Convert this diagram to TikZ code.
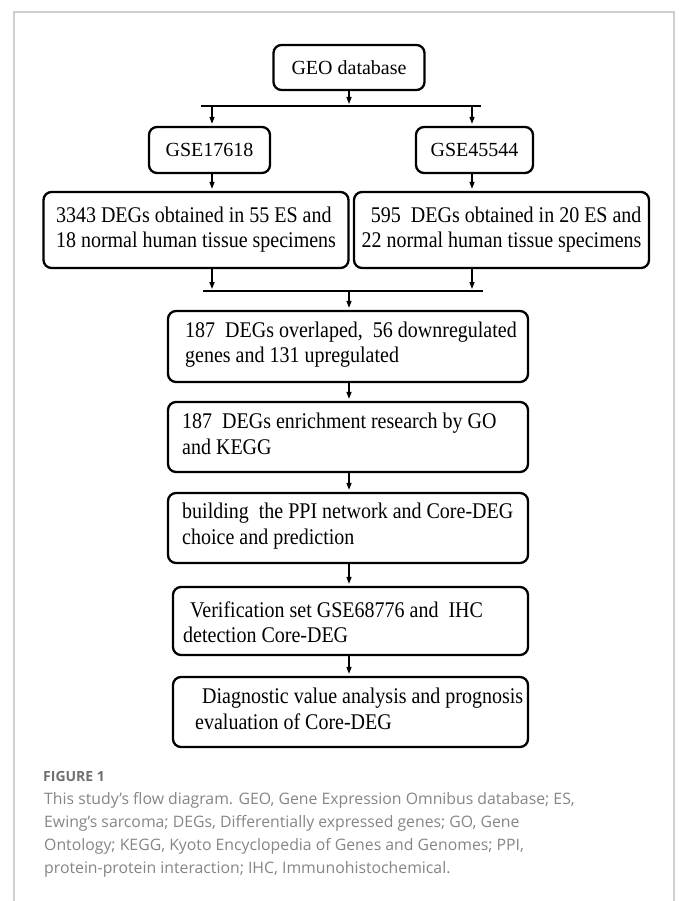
\documentclass[tikz,border=0pt]{standalone}
\usepackage{fontspec}
\usepackage{graphicx}
\setmainfont{Liberation Serif}
\newfontfamily\capfont{Open Sans}
\usetikzlibrary{arrows.meta}
\definecolor{framegray}{HTML}{CFCFCF}
\definecolor{capgray}{HTML}{858585}
\definecolor{figgray}{HTML}{707070}
\newcommand{\lefttwo}[1]{\scalebox{1}[1.12]{\begin{tabular}{@{}l@{}}#1\end{tabular}}}
\newcommand{\righttwo}[1]{\scalebox{1}[1.12]{\begin{tabular}{@{}r@{}}#1\end{tabular}}}
\begin{document}
\begin{tikzpicture}[x=1pt,y=-1pt,
  box/.style={draw=black, line width=2.3pt, rounded corners=8pt, inner sep=0pt, font=\fontsize{20}{22.5}\selectfont},
  boxtext/.style={anchor=west, inner sep=0pt, font=\fontsize{20}{22.5}\selectfont},
  arr/.style={line width=1.3pt, -{Triangle[length=7pt,width=5pt]}, shorten >=2pt},
  bar/.style={line width=2.8pt},
  captext/.style={anchor=west, inner sep=0pt, text=capgray, font=\capfont\fontsize{15.8}{23}\selectfont}
]
\useasboundingbox (0,0) rectangle (678,901);
\draw[framegray, line width=1.5pt] (14,901) -- (14,12) -- (674,12) -- (674,901);

% top
\node[box, minimum width=151pt, minimum height=45pt] (geo) at (349,67.5) {GEO database};
\coordinate (s1) at (201,106);
\coordinate (s2) at (481,106);
\draw[bar] (s1) -- (s2);
\coordinate (sm) at (349,106);
\draw[arr] (geo.south) -- (sm);
\coordinate (al) at (212,106);
\coordinate (ar) at (472,106);

\node[box, minimum width=121pt, minimum height=46pt] (gse1) at (209.5,150) {GSE17618};
\node[box, minimum width=117pt, minimum height=46pt] (gse2) at (474.5,150) {GSE45544};
\draw[arr] (al) -- (al |- gse1.north);
\draw[arr] (ar) -- (ar |- gse2.north);

\node[box, minimum width=305pt, minimum height=76pt] (big1) at (196,230) {\lefttwo{3343 DEGs obtained in 55 ES and\\18 normal human tissue specimens}};
\node[box, minimum width=295pt, minimum height=76pt] (big2) at (501.5,230) {\righttwo{595~~DEGs obtained in 20 ES and\\22 normal human tissue specimens}};
\draw[arr] (gse1.south -| al) -- (big1.north -| al);
\draw[arr] (gse2.south -| ar) -- (big2.north -| ar);

\coordinate (m1) at (203,291);
\coordinate (m2) at (483,291);
\draw[bar] (m1) -- (m2);
\coordinate (mm) at (349,291);
\draw[arr] (big1.south -| al) -- (al |- m1);
\draw[arr] (big2.south -| ar) -- (ar |- m1);

% chain
\node[box, minimum width=360pt, minimum height=71pt] (A) at (348,346.5) {};
\node[boxtext] (At) at (185,345) {\lefttwo{187~~DEGs overlaped,~~56 downregulated\\genes and 131 upregulated}};
\node[box, minimum width=360pt, minimum height=70pt] (B) at (348,437) {};
\node[boxtext] (Bt) at (182,436.5) {\lefttwo{187~~DEGs enrichment research by GO\\and KEGG}};
\node[box, minimum width=360pt, minimum height=70pt] (C) at (348,528) {};
\node[boxtext] (Ct) at (182,526.5) {\lefttwo{building~~the PPI network and Core-DEG\\choice and prediction}};
\node[box, minimum width=355pt, minimum height=68pt] (D) at (350.5,621) {};
\node[boxtext] (Dt) at (183,625) {\lefttwo{\hspace*{7pt}Verification set GSE68776 and~~IHC\\detection Core-DEG}};
\node[box, minimum width=355pt, minimum height=70pt] (E) at (350.5,712) {};
\node[boxtext] (Et) at (195,711.5) {\lefttwo{\hspace*{7pt}Diagnostic value analysis and prognosis\\evaluation of Core-DEG}};

\draw[arr] (mm) -- (mm |- A.north);
\draw[arr] (A.south -| mm) -- (mm |- B.north);
\draw[arr] (B.south -| mm) -- (mm |- C.north);
\draw[arr] (C.south -| mm) -- (mm |- D.north);
\draw[arr] (D.south -| mm) -- (mm |- E.north);

% caption
\node[anchor=west, inner sep=0pt, text=figgray, font=\capfont\bfseries\fontsize{14}{16}\selectfont] (fig) at (43,776) {FIGURE 1};
\node[captext] (c1) at (44,800) {This study’s flow diagram. GEO, Gene Expression Omnibus database; ES,};
\node[captext] (c2) at (44,823) {Ewing’s sarcoma; DEGs, Differentially expressed genes; GO, Gene};
\node[captext] (c3) at (44,846) {Ontology; KEGG, Kyoto Encyclopedia of Genes and Genomes; PPI,};
\node[captext] (c4) at (44,869) {protein-protein interaction; IHC, Immunohistochemical.};
\end{tikzpicture}
\end{document}
